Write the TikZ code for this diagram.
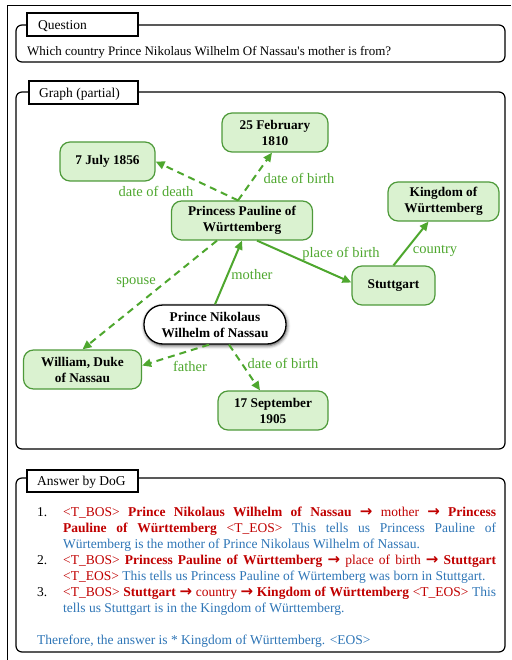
\documentclass[tikz,border=0pt]{standalone}
\usepackage{fontspec}
\setmainfont{Liberation Serif}
\newfontfamily\arrowfont{DejaVu Sans}
\usetikzlibrary{arrows.meta,shadows.blur}
\definecolor{eg}{HTML}{4EA72E}
\definecolor{nb}{HTML}{4E9A3A}
\definecolor{nf}{HTML}{DAF2D0}
\definecolor{ared}{HTML}{C00000}
\definecolor{ablue}{HTML}{2E75B6}
\newcommand\myr[1]{\textcolor{ared}{#1}}
\newcommand\myrb[1]{\textcolor{ared}{\textbf{#1}}}
\newcommand\myb[1]{\textcolor{ablue}{#1}}
\newcommand\tbos{\myr{\textless T\_BOS\textgreater}}
\newcommand\teos{\myr{\textless T\_EOS\textgreater}}
\newcommand\myar{\textcolor{ared}{\raisebox{-0.6pt}{\arrowfont\bfseries\fontsize{15}{16}\selectfont →}}}
\begin{document}
\begin{tikzpicture}[x=1pt,y=-1pt,
 kg/.style={draw=nb, fill=nf, line width=1.2pt, rounded corners=10pt, align=center,
   font=\fontsize{13.3}{16}\selectfont\bfseries, inner sep=0pt, minimum height=39pt},
 nik/.style={draw=black, fill=white, line width=1.3pt, rounded corners=19pt, align=center,
   font=\fontsize{13.3}{16}\selectfont\bfseries, inner sep=0pt, minimum height=39pt,
   blur shadow={shadow xshift=0.8pt, shadow yshift=-1.5pt, shadow blur radius=3.5pt, shadow opacity=75}},
 rel/.style={draw=eg, line width=2pt, -{Triangle[length=9pt,width=8pt]}},
 reld/.style={rel, dash pattern=on 7pt off 5pt},
 elab/.style={text=eg, font=\fontsize{14.5}{16}\selectfont, inner sep=0pt},
 frm/.style={draw=black, line width=1.2pt, rounded corners=6pt},
 tagbox/.style={draw=black, fill=white, line width=1.2pt},
 tagtxt/.style={anchor=base west, inner sep=0pt, font=\fontsize{13.5}{16}\selectfont},
 ansl/.style={anchor=base west, inner sep=0pt, font=\fontsize{13.5}{16}\selectfont}]

\useasboundingbox (0,0) rectangle (511,660);
\draw[line width=1pt] (7,660) -- (7,6) -- (511,6);

% Question
\draw[frm] (16,25) rectangle (505,62);
\draw[tagbox] (27,13) rectangle (138,36);
\node[tagtxt] (qtag) at (38,30) {Question};
\node[tagtxt, font=\fontsize{13}{16}\selectfont] (qtext) at (27,56) {Which country Prince Nikolaus Wilhelm Of Nassau\textquotesingle s mother is from?};

% Graph
\draw[frm] (16,92) rectangle (505,449);
\draw[tagbox] (29,81) rectangle (138,104);
\node[tagtxt] (gtag) at (39,98) {Graph (partial)};

\node[kg, minimum width=106pt] (feb) at (275,132.5) {25 February\\1810};
\node[kg, minimum width=95pt] (jul) at (107.5,161.5) {7 July 1856};
\node[kg, minimum width=141pt] (pau) at (242,220.5) {Princess Pauline of\\Württemberg};
\node[kg, minimum width=111pt] (kin) at (443.5,201.5) {Kingdom of\\Württemberg};
\node[kg, minimum width=83pt] (stu) at (393.5,285.5) {Stuttgart};
\node[nik, minimum width=142pt] (nk) at (215,324.5) {Prince Nikolaus\\Wilhelm of Nassau};
\node[kg, minimum width=118pt] (wil) at (82.5,369.5) {William, Duke\\of Nassau};
\node[kg, minimum width=110pt] (sep) at (273,410.5) {17 September\\1905};

\draw[reld] ([xshift=-4pt]pau.north) -- (jul.east);
\draw[reld] ([xshift=-4pt]pau.north) -- ([xshift=-3pt]feb.south);
\draw[rel] ([xshift=15pt]pau.south) -- ([yshift=3pt]stu.west);
\draw[rel] (stu.north) -- ([xshift=-15pt]kin.south);
\draw[rel] (nk.north) -- (pau.south);
\draw[reld] ([xshift=-25pt]pau.south) -- (wil.north);
\draw[reld] ([xshift=-6pt]nk.south) -- ([yshift=4pt]wil.east);
\draw[reld] ([xshift=14pt]nk.south) -- ([xshift=-13pt]sep.north);

\node[elab] (l1) at (156,191) {date of death};
\node[elab] (l2) at (299,178) {date of birth};
\node[elab] (l3) at (341,254) {place of birth};
\node[elab] (l4) at (435,251) {country};
\node[elab] (l5) at (252,275) {mother};
\node[elab] (l6) at (136,283) {spouse};
\node[elab] (l7) at (190,366) {father};
\node[elab] (l8) at (283,363) {date of birth};

% Answer
\draw[frm] (16,478) rectangle (505,652);
\draw[tagbox] (27,470) rectangle (138,492);
\node[tagtxt] (atag) at (37,485) {Answer by DoG};

\node[ansl] (n1) at (37,516) {1.};
\node[ansl] (n2) at (37,564) {2.};
\node[ansl] (n3) at (37,596) {3.};
\node[ansl] (a1) at (63,516) {\makebox[433pt][s]{\tbos{} \myrb{Prince Nikolaus Wilhelm of Nassau} \myar{} \myr{mother} \myar{} \myrb{Princess}}};
\node[ansl] (a2) at (63,532) {\makebox[433pt][s]{\myrb{Pauline of Württemberg} \teos{} \myb{This tells us Princess Pauline of}}};
\node[ansl] (a3) at (63,548) {\myb{Würtemberg is the mother of Prince Nikolaus Wilhelm of Nassau.}};
\node[ansl] (a4) at (63,564) {\makebox[433pt][s]{\tbos{} \myrb{Princess Pauline of Württemberg} \myar{} \myr{place of birth} \myar{} \myrb{Stuttgart}}};
\node[ansl] (a5) at (63,580) {\teos{} \myb{This tells us Princess Pauline of Würtemberg was born in Stuttgart.}};
\node[ansl] (a6) at (63,596) {\makebox[433pt][s]{\tbos{} \myrb{Stuttgart} \myar{} \myr{country} \myar{} \myrb{Kingdom of Württemberg} \teos{} \myb{This}}};
\node[ansl] (a7) at (63,612) {\myb{tells us Stuttgart is in the Kingdom of Württemberg.}};
\node[ansl] (a8) at (37,644) {\myb{Therefore, the answer is * Kingdom of Württemberg. \textless EOS\textgreater}};
\end{tikzpicture}
\end{document}
